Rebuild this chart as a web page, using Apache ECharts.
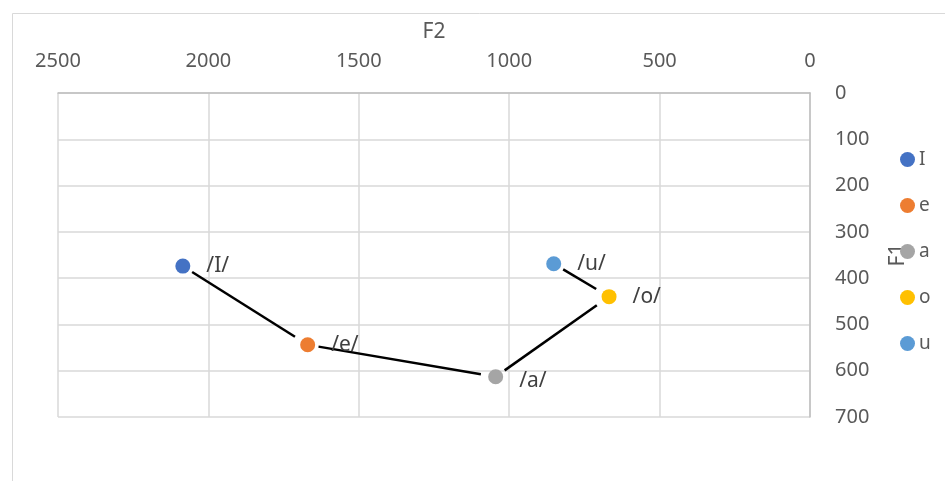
<!DOCTYPE html>
<html><head><meta charset="utf-8">
<script src="https://cdn.jsdelivr.net/npm/echarts@6/dist/echarts.min.js"></script>
<style>html,body{margin:0;padding:0;background:#fff}#c{width:945px;height:481px}</style>
</head><body><div id="c"></div>
<script>
const vowels = ['I', 'e', 'a', 'o', 'u'];
const pointLabels = ['/I/', '/e/', '/a/', '/o/', '/u/'];
const F2 = [2085, 1670, 1045, 668, 852];
const F1 = [374, 544, 613, 440, 369];
const colors = ['#4472C4', '#ED7D31', '#A5A5A5', '#FFC000', '#5B9BD5'];
const links = [['I', 'e'], ['e', 'a'], ['a', 'o'], ['u', 'o']];
const xTicks = [0, 500, 1000, 1500, 2000, 2500];
const yTicks = [0, 100, 200, 300, 400, 500, 600, 700];

const FONT = 'Noto Sans';
const txt = '#595959';
const chart = echarts.init(document.getElementById('c'));

const segData = links.map(([a, b]) => {
  const i = vowels.indexOf(a), j = vowels.indexOf(b);
  return [F2[i], F1[i], F2[j], F1[j]];
});

const series = vowels.map((v, i) => ({
  name: v,
  type: 'scatter',
  symbol: 'circle',
  symbolSize: 15,
  z: 3,
  itemStyle: { color: colors[i], opacity: 1 },
  data: [[F2[i], F1[i]]],
  label: {
    show: true, position: 'right', distance: 16,
    offset: v === 'a' ? [0, 4] : [0, 0],
    formatter: () => pointLabels[i],
    fontFamily: FONT, fontSize: 21, color: '#404040'
  }
}));

series.push({
  type: 'custom',
  name: 'links',
  z: 2,
  silent: true,
  encode: { x: [0, 2], y: [1, 3] },
  data: segData,
  renderItem: (params, api) => {
    const p1 = api.coord([api.value(0), api.value(1)]);
    const p2 = api.coord([api.value(2), api.value(3)]);
    const dx = p2[0] - p1[0], dy = p2[1] - p1[1];
    const L = Math.sqrt(dx * dx + dy * dy);
    const ux = dx / L, uy = dy / L;
    const g1 = 11, g2 = 15;
    return {
      type: 'line',
      shape: { x1: p1[0] + ux * g1, y1: p1[1] + uy * g1, x2: p2[0] - ux * g2, y2: p2[1] - uy * g2 },
      style: { stroke: '#000', lineWidth: 2.5 }
    };
  }
});

chart.setOption({
  animation: false,
  backgroundColor: '#fff',
  textStyle: { fontFamily: FONT },
  graphic: [{
    type: 'rect', left: 10, top: 11,
    shape: { width: 1200, height: 1000 },
    style: { fill: 'none', stroke: '#d9d9d9', lineWidth: 1 }, silent: true, z: -1
  }],
  grid: { left: 58, right: 135, top: 93, bottom: 64, containLabel: false },
  legend: {
    orient: 'vertical', left: 900, top: 150, padding: 0,
    data: vowels,
    icon: 'circle', itemWidth: 15, itemHeight: 15, itemGap: 27,
    textStyle: { fontFamily: FONT, fontSize: 19, lineHeight: 15, color: txt, padding: [0, 0, 0, -1] }
  },
  xAxis: {
    type: 'value', position: 'top', inverse: true,
    min: 0, max: 2500, interval: 500,
    name: 'F2', nameLocation: 'middle', nameGap: 50,
    nameTextStyle: { fontFamily: FONT, fontSize: 21, color: txt },
    axisLine: { show: true, lineStyle: { color: '#bfbfbf', width: 1.5 } },
    axisTick: { show: false },
    axisLabel: { margin: 22, fontFamily: FONT, fontSize: 20, color: txt,
      customValues: xTicks, formatter: v => String(v) },
    splitLine: { show: true, lineStyle: { color: '#d9d9d9', width: 1.5 } }
  },
  yAxis: {
    type: 'value', position: 'right', inverse: true,
    min: 0, max: 700, interval: 100,
    name: 'F1', nameLocation: 'middle', nameGap: 78, nameRotate: 90,
    nameTextStyle: { fontFamily: FONT, fontSize: 21, color: txt },
    axisLine: { show: true, lineStyle: { color: '#bfbfbf', width: 1.5 } },
    axisTick: { show: false },
    axisLabel: { margin: 25, fontFamily: FONT, fontSize: 20, color: txt,
      customValues: yTicks, formatter: v => String(v) },
    splitLine: { show: true, lineStyle: { color: '#d9d9d9', width: 1.5 } }
  },
  series: series
});
</script></body></html>
